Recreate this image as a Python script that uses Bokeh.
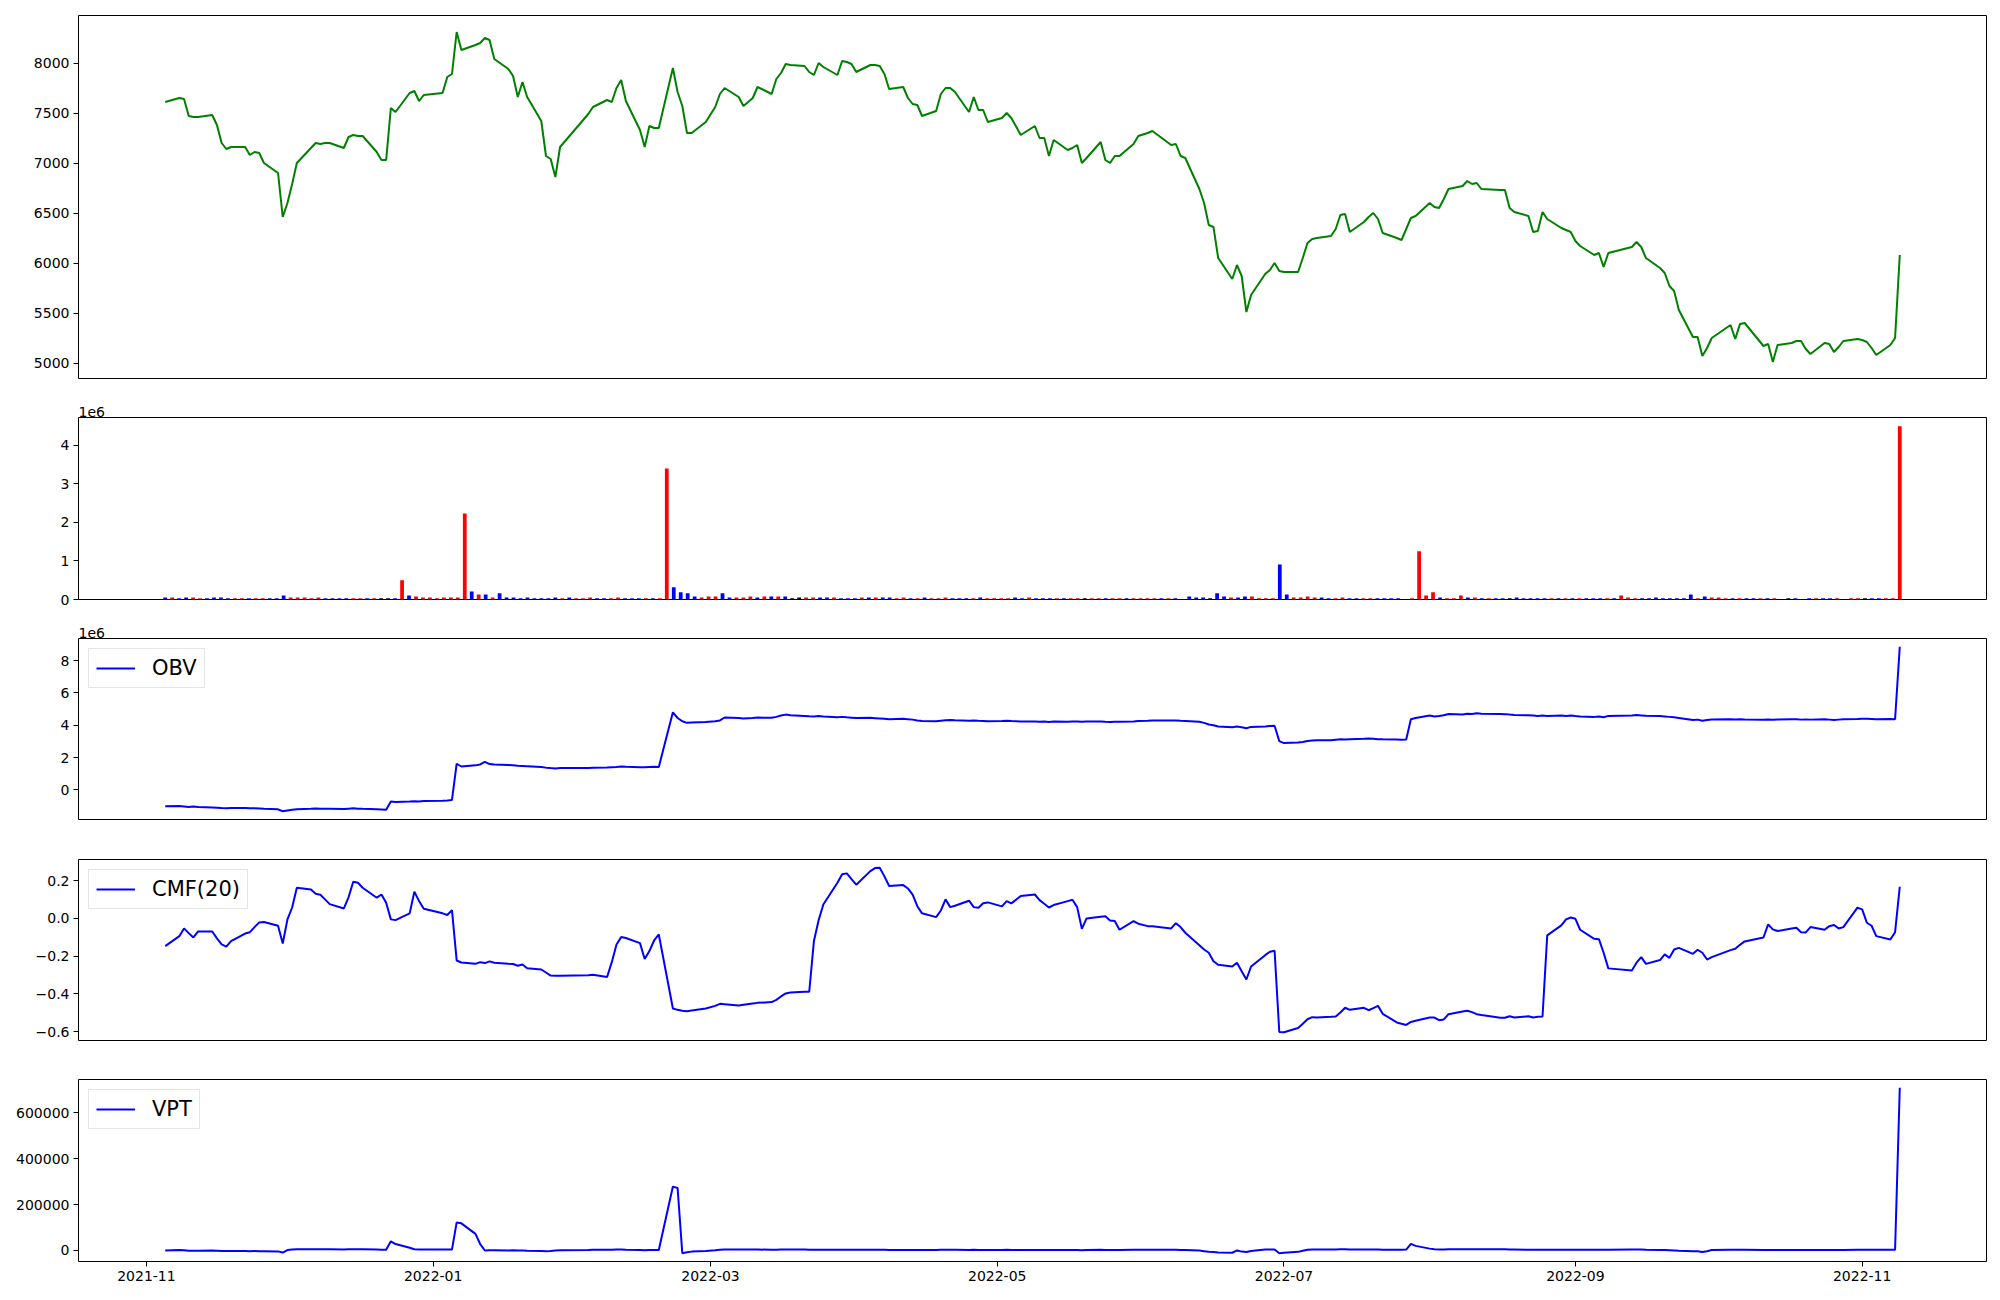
import pandas as pd
from bokeh.plotting import figure
from bokeh.layouts import column
from bokeh.models import (Range1d, FixedTicker, DatetimeTickFormatter,
                          CustomJSTickFormatter, BasicTickFormatter)
from bokeh.embed import file_html
from bokeh.resources import INLINE

# ---------------- DATA ----------------
holidays = ["2021-12-31", "2022-01-31", "2022-02-01", "2022-02-02", "2022-03-01", "2022-03-09",
            "2022-05-05", "2022-06-01", "2022-06-06", "2022-08-15", "2022-09-09", "2022-09-12",
            "2022-10-03", "2022-10-10"]
dates = [d for d in pd.bdate_range("2021-11-05", "2022-11-09") if d.strftime("%Y-%m-%d") not in holidays]

close = [
    7610, 7650, 7640, 7470, 7460, 7460, 7480, 7380, 7200, 7140, 7160, 7160, 7080, 7110, 7100, 7000, 6900, 6460,
    6600, 6790, 7000, 7150, 7200, 7190, 7200, 7200, 7150, 7260, 7280, 7270, 7270, 7110, 7030, 7030, 7550, 7510, 7700, 7720, 7620, 7680,
    7700, 7860, 7890, 8310, 8130, 8180, 8200, 8250, 8230, 8040, 7940, 7870, 7660, 7810, 7660, 7420, 7070, 7040, 6860, 7160,
    7490, 7560, 7630, 7610, 7750, 7830, 7620, 7330, 7160, 7370, 7350, 7350, 7950, 7710, 7570, 7300, 7300, 7410,
    7560, 7690, 7750, 7660, 7570, 7650, 7760, 7690, 7840, 7900, 7990, 7980, 7970, 7910, 7880, 8000, 7960, 7880, 8020, 8010, 7990,
    7910, 7980, 7980, 7970, 7890, 7740, 7760, 7650, 7590, 7580, 7470, 7520, 7690, 7750, 7750, 7710, 7510, 7660, 7530, 7530, 7410,
    7450, 7500, 7450, 7280, 7370, 7250, 7250, 7070, 7230, 7130, 7150, 7180, 7000, 7050, 7210, 7030, 7000, 7070, 7070, 7190, 7270,
    7300, 7320, 7180, 7190, 7070, 7050, 6740, 6600, 6380, 6360, 6050, 5840, 5980, 5870, 5510, 5680, 5890, 5930, 6000, 5920,
    5910, 5910, 6050, 6200, 6240, 6250, 6270, 6340, 6480, 6490, 6310, 6410, 6460, 6500, 6440, 6300, 6250, 6230, 6340, 6450, 6470,
    6600, 6560, 6550, 6640, 6740, 6770, 6820, 6790, 6800, 6740, 6730, 6730, 6550, 6510, 6470, 6310, 6320, 6510, 6440, 6350, 6330, 6310,
    6220, 6170, 6080, 6100, 5960, 6100, 6160, 6210, 6160, 6050, 5950, 5900, 5770, 5720, 5530, 5260, 5260, 5070, 5150, 5250,
    5380, 5240, 5390, 5400, 5170, 5190, 5010, 5180, 5200, 5220, 5220, 5140, 5090, 5200, 5190, 5110, 5160, 5220, 5240,
    5230, 5210, 5150, 5080, 5180, 5250, 6080,
]

# volume in thousands of shares
volume_k = [
    55, 55, 30, 55, 55, 30, 30, 55, 55, 30, 30, 30, 30, 30, 30, 30, 30, 105,
    55, 55, 55, 30, 55, 30, 30, 30, 30, 30, 30, 30, 30, 30, 30, 30, 500, 105, 80, 55, 55, 30,
    55, 55, 55, 2230, 210, 130, 130, 55, 160, 55, 55, 30, 55, 30, 30, 30, 55, 30, 55, 30,
    30, 55, 30, 30, 30, 55, 30, 30, 30, 30, 30, 30, 3400, 320, 185, 160, 80, 55,
    80, 80, 160, 55, 55, 55, 80, 55, 80, 80, 80, 80, 30, 55, 55, 55, 55, 55, 55, 30, 30,
    30, 55, 55, 55, 55, 55, 30, 55, 30, 30, 55, 30, 30, 55, 30, 30, 30, 30, 55, 30, 30,
    30, 30, 55, 30, 55, 30, 30, 30, 30, 30, 30, 30, 30, 30, 30, 30, 30, 30, 30, 30, 30,
    30, 30, 30, 30, 30, 10, 80, 55, 55, 30, 160, 80, 55, 55, 80, 80, 30, 30, 30, 910,
    130, 55, 55, 80, 55, 55, 30, 30, 55, 30, 30, 30, 30, 30, 30, 30, 30, 10, 30, 1250, 105,
    185, 55, 30, 30, 105, 55, 55, 30, 30, 30, 30, 30, 55, 30, 30, 30, 30, 30, 30, 30, 30, 30,
    30, 30, 30, 30, 30, 105, 55, 30, 30, 30, 55, 30, 30, 30, 30, 130, 30, 80, 55, 55,
    30, 30, 30, 30, 30, 30, 30, 30, 10, 30, 30, 10, 30, 30, 30, 30, 30, 10, 30,
    30, 30, 30, 30, 30, 30, 4500,
]

# day direction of each volume bar: 1 up, -1 down, 0 unchanged
direction = [
    -1, 1, -1, -1, 1, 1, -1, -1, -1, -1, 1, 1, -1, 1, 1, -1, -1, -1,
    1, 1, 1, 1, 1, -1, -1, -1, -1, 1, 1, -1, 1, 0, 0, -1, 1, -1, 1, 1, 1, 1,
    1, 1, 1, 1, -1, 1, -1, 1, -1, -1, -1, -1, -1, -1, -1, -1, -1, 1, -1, 1,
    1, 1, -1, -1, 1, 1, -1, -1, -1, 1, -1, 1, 1, -1, -1, -1, -1, 1,
    1, 1, -1, -1, 1, 1, 1, -1, 1, -1, 1, -1, 0, 0, 1, 1, -1, -1, 1, -1, -1,
    -1, 1, -1, 1, -1, -1, 1, 1, -1, 1, -1, 1, 1, 1, -1, -1, -1, 1, -1, 1, 1,
    1, 1, -1, -1, 1, -1, -1, -1, 1, -1, 1, 1, 0, 1, 1, -1, 1, 1, -1, 1, 1,
    1, 1, -1, 1, -1, 0, -1, -1, -1, 0, -1, -1, 1, -1, -1, 1, 1, 1, 1, -1,
    -1, 1, 1, 1, 1, -1, -1, 1, 1, -1, -1, 1, 1, -1, -1, -1, -1, 0, 1, 1, 1,
    1, -1, 1, 1, 1, -1, 1, -1, 1, -1, -1, 0, -1, -1, -1, -1, -1, 1, -1, 1, -1, 1,
    -1, -1, -1, 1, -1, 1, 1, 1, -1, -1, -1, -1, -1, -1, -1, -1, 1, -1, 1, 1,
    1, -1, 1, -1, -1, 1, -1, 1, 0, 0, -1, 0, -1, 1, -1, -1, 1, 0, 1,
    1, 0, -1, -1, 1, 1, 1,
]

# OBV in millions
obv_m = [
    -1.01, -0.99, -1.02, -1.05, -1.03, -1.05, -1.08, -1.10, -1.12, -1.13, -1.12, -1.12, -1.14, -1.13, -1.15, -1.17, -1.20, -1.32,
    -1.27, -1.22, -1.19, -1.17, -1.15, -1.17, -1.16, -1.16, -1.18, -1.16, -1.14, -1.16, -1.17, -1.19, -1.21, -1.23, -0.72, -0.75, -0.72, -0.70, -0.71, -0.69,
    -0.67, -0.65, -0.62, 1.62, 1.45, 1.52, 1.58, 1.74, 1.60, 1.57, 1.54, 1.52, 1.49, 1.48, 1.47, 1.42, 1.38, 1.35, 1.33, 1.35,
    1.36, 1.37, 1.39, 1.41, 1.42, 1.45, 1.43, 1.41, 1.40, 1.42, 1.43, 1.42, 4.80, 4.45, 4.25, 4.15, 4.17, 4.20,
    4.25, 4.30, 4.48, 4.45, 4.42, 4.45, 4.48, 4.46, 4.52, 4.60, 4.66, 4.62, 4.58, 4.56, 4.55, 4.57, 4.55, 4.50, 4.52, 4.49, 4.47,
    4.45, 4.46, 4.44, 4.42, 4.40, 4.38, 4.40, 4.38, 4.35, 4.30, 4.27, 4.25, 4.28, 4.31, 4.33, 4.31, 4.28, 4.30, 4.28, 4.27, 4.25,
    4.27, 4.28, 4.26, 4.24, 4.23, 4.22, 4.23, 4.21, 4.23, 4.22, 4.23, 4.24, 4.22, 4.23, 4.24, 4.22, 4.21, 4.22, 4.22, 4.24, 4.26,
    4.28, 4.30, 4.29, 4.30, 4.28, 4.27, 4.22, 4.15, 4.05, 4.00, 3.93, 3.88, 3.92, 3.88, 3.82, 3.90, 3.93, 3.95, 3.97, 3.02,
    2.90, 2.93, 2.97, 3.03, 3.06, 3.08, 3.07, 3.10, 3.13, 3.12, 3.14, 3.16, 3.18, 3.16, 3.14, 3.13, 3.12, 3.10, 3.12, 4.37, 4.45,
    4.60, 4.55, 4.58, 4.62, 4.70, 4.67, 4.72, 4.70, 4.74, 4.72, 4.70, 4.69, 4.66, 4.64, 4.62, 4.60, 4.58, 4.60, 4.58, 4.60, 4.58, 4.60,
    4.57, 4.55, 4.52, 4.54, 4.50, 4.58, 4.61, 4.63, 4.61, 4.59, 4.57, 4.55, 4.52, 4.49, 4.45, 4.32, 4.35, 4.28, 4.32, 4.36,
    4.38, 4.36, 4.38, 4.36, 4.34, 4.36, 4.34, 4.36, 4.37, 4.37, 4.35, 4.36, 4.35, 4.37, 4.35, 4.33, 4.35, 4.37, 4.39,
    4.41, 4.41, 4.39, 4.37, 4.39, 4.37, 8.86,
]

cmf20 = [
    -0.147, -0.094, -0.053, -0.078, -0.101, -0.069, -0.069, -0.106, -0.138, -0.150, -0.120, -0.080, -0.073, -0.046, -0.021, -0.019, -0.039, -0.133,
    -0.005, 0.058, 0.163, 0.154, 0.131, 0.126, 0.101, 0.076, 0.053, 0.112, 0.195, 0.189, 0.163, 0.110, 0.127, 0.083, -0.005, -0.009, 0.027, 0.142, 0.092, 0.051,
    0.027, 0.018, 0.044, -0.223, -0.234, -0.241, -0.232, -0.237, -0.228, -0.235, -0.241, -0.242, -0.251, -0.244, -0.264, -0.271, -0.287, -0.303, -0.304, -0.304,
    -0.301, -0.299, -0.311, -0.232, -0.138, -0.099, -0.104, -0.131, -0.215, -0.173, -0.117, -0.085, -0.478, -0.485, -0.490, -0.492, -0.488, -0.478,
    -0.464, -0.453, -0.455, -0.462, -0.458, -0.451, -0.448, -0.444, -0.432, -0.414, -0.398, -0.393, -0.389, -0.389, -0.120, -0.010, 0.074, 0.189, 0.234, 0.239, 0.209,
    0.179, 0.251, 0.267, 0.269, 0.223, 0.172, 0.177, 0.159, 0.126, 0.065, 0.027, 0.007, 0.042, 0.101, 0.060, 0.067, 0.094, 0.060, 0.057, 0.081, 0.085,
    0.064, 0.092, 0.080, 0.119, 0.127, 0.097, 0.078, 0.058, 0.071, 0.092, 0.099, 0.060, -0.055, 0.000, 0.009, 0.011, -0.011, -0.014, -0.060, -0.014, -0.028,
    -0.041, -0.042, -0.053, -0.025, -0.046, -0.076, -0.142, -0.165, -0.182, -0.227, -0.246, -0.255, -0.235, -0.280, -0.324, -0.255, -0.195, -0.177, -0.172, -0.602,
    -0.604, -0.581, -0.559, -0.535, -0.524, -0.526, -0.522, -0.520, -0.499, -0.474, -0.485, -0.474, -0.487, -0.476, -0.464, -0.506, -0.552, -0.559, -0.565, -0.549, -0.543,
    -0.526, -0.526, -0.540, -0.536, -0.508, -0.494, -0.490, -0.497, -0.508, -0.512, -0.527, -0.527, -0.519, -0.526, -0.519, -0.526, -0.522, -0.520, -0.090, -0.037, -0.005, 0.005,
    -0.002, -0.060, -0.108, -0.110, -0.182, -0.265, -0.276, -0.235, -0.205, -0.241, -0.221, -0.191, -0.209, -0.165, -0.156, -0.188, -0.166, -0.182, -0.218, -0.205,
    -0.168, -0.161, -0.140, -0.122, -0.101, -0.032, -0.058, -0.067, -0.053, -0.050, -0.073, -0.074, -0.046, -0.060, -0.041, -0.035, -0.053, -0.046, 0.057,
    0.048, -0.023, -0.039, -0.094, -0.112, -0.073, 0.168,
]

# VPT in thousands
vpt_k = [
    0, 2, 1, -1, -1, -1, 0, -1, -2, -2, -2, -2, -3, -2, -3, -3, -4, -9,
    2, 4, 5, 5, 5, 5, 5, 5, 4, 5, 5, 5, 5, 4, 3, 3, 40, 28, 12, 5, 4, 4,
    4, 4, 4, 122, 118, 72, 28, 0, 1, 1, 0, 1, 0, 0, -1, -2, -3, -2, 0, 1,
    2, 3, 3, 3, 4, 4, 3, 2, 1, 2, 2, 2, 278, 272, -12, -8, -5, -2,
    1, 3, 4, 4, 4, 4, 4, 3, 3, 4, 4, 4, 4, 3, 3, 3, 3, 3, 3, 3, 3,
    3, 3, 3, 3, 3, 2, 2, 2, 2, 2, 2, 2, 3, 3, 3, 3, 2, 3, 2, 2, 2,
    2, 3, 2, 2, 2, 2, 2, 2, 2, 2, 2, 2, 1, 2, 3, 2, 2, 2, 2, 3, 3,
    3, 3, 3, 3, 2, 2, 0, -3, -6, -7, -9, -10, 0, -5, -7, -2, 4, 4, 4, -12,
    -10, -6, -1, 3, 4, 4, 4, 4, 5, 5, 4, 4, 4, 4, 4, 3, 3, 3, 4, 29, 20,
    8, 5, 4, 4, 5, 5, 5, 5, 5, 5, 5, 5, 4, 4, 3, 3, 3, 3, 3, 3, 3, 3,
    3, 3, 3, 3, 3, 3, 4, 4, 4, 3, 2, 2, 1, 0, -1, -3, -3, -7, -3, 2,
    3, 3, 3, 3, 2, 2, 2, 2, 2, 2, 2, 2, 2, 2, 2, 2, 2, 2, 3,
    3, 3, 3, 3, 3, 3, 708,
]

x_tick_dates = ["2021-11-01", "2022-01-01", "2022-03-01", "2022-05-01", "2022-07-01", "2022-09-01", "2022-11-01"]
price_ticks = [5000, 5500, 6000, 6500, 7000, 7500, 8000]
volume_ticks = [0, 1, 2, 3, 4]
obv_ticks = [0, 2, 4, 6, 8]
cmf_ticks = [-0.6, -0.4, -0.2, 0.0, 0.2]
vpt_ticks = [0, 200000, 400000, 600000]

# ---------------- BUILD ----------------
n = min(len(dates), len(close), len(volume_k), len(direction), len(obv_m), len(cmf20), len(vpt_k))
dates = dates[:n]
close = close[:n]
vol_m = [v / 1000.0 for v in volume_k[:n]]
direction = direction[:n]
obv_m = obv_m[:n]
cmf20 = cmf20[:n]
vpt = [v * 1000.0 for v in vpt_k[:n]]
bar_colors = ["red" if d > 0 else ("blue" if d < 0 else "black") for d in direction]

FONT = "DejaVu Sans"
W = 1992
DAY = 86400000.0

t = [d.value / 1e6 for d in dates]
span = t[-1] - t[0]
xr = Range1d(start=t[0] - 0.05 * span, end=t[-1] + 0.05 * span)
# volume bars are placed one per session, evenly spaced across the same span
tb = [t[0] + i * span / (n - 1) for i in range(n)]


def margin_range(vals, lo_zero=False):
    lo, hi = min(vals), max(vals)
    r = hi - lo
    if lo_zero:
        return Range1d(start=0, end=hi * 1.05)
    return Range1d(start=lo - 0.05 * r, end=hi + 0.05 * r)


def style_axis(ax):
    ax.major_label_text_font = FONT
    ax.major_label_text_font_size = "14px"
    ax.major_label_text_color = "black"
    ax.axis_line_color = None
    ax.major_tick_out = 5
    ax.major_tick_in = 0
    ax.minor_tick_out = 0
    ax.minor_tick_in = 0
    ax.major_tick_line_color = "black"
    ax.major_label_standoff = 4


def make_fig(height, top, bottom, yr, title=None):
    kw = dict(width=W, height=height, x_axis_type="datetime", x_range=xr, y_range=yr,
              output_backend="svg", toolbar_location=None, min_border_left=78,
              min_border_right=6, min_border_top=top, min_border_bottom=bottom,
              background_fill_color="white", border_fill_color="white")
    if title is not None:
        kw["title"] = title
    p = figure(**kw)
    if title is not None:
        p.title.text_font = FONT
        p.title.text_font_size = "14px"
        p.title.text_font_style = "normal"
        p.title.text_color = "black"
        p.title.align = "left"
        p.title.offset = 0
        p.title.standoff = 2
    p.grid.visible = False
    p.outline_line_color = "black"
    p.outline_line_width = 1
    p.outline_line_alpha = 1
    for ax in p.yaxis:
        style_axis(ax)
    for ax in p.xaxis:
        style_axis(ax)
    return p


def style_legend(p):
    lg = p.legend[0]
    lg.location = "top_left"
    lg.margin = 10
    lg.padding = 7
    lg.spacing = 0
    lg.label_text_font = FONT
    lg.label_text_font_size = "21px"
    lg.label_text_color = "black"
    lg.label_standoff = 17
    lg.label_height = 20
    lg.glyph_width = 39
    lg.glyph_height = 20
    lg.border_line_color = "#cccccc"
    lg.border_line_width = 1
    lg.background_fill_color = "white"
    lg.background_fill_alpha = 0.8


# Panel 1: price
p1 = make_fig(397, 15, 19, margin_range(close))
p1.line(t, close, line_color="green", line_width=2)
p1.yaxis.ticker = FixedTicker(ticks=price_ticks)
p1.xaxis.visible = False

# Panel 2: volume
p2 = make_fig(221, 20, 19, margin_range(vol_m, lo_zero=True), title="1e6")
p2.vbar(x=tb, width=0.8 * DAY, top=vol_m, bottom=0, fill_color=bar_colors, line_color=None)
p2.yaxis.ticker = FixedTicker(ticks=volume_ticks)
p2.xaxis.visible = False

# Panel 3: OBV
p3 = make_fig(221, 20, 20, margin_range(obv_m), title="1e6")
p3.line(t, obv_m, line_color="blue", line_width=2, legend_label="OBV")
p3.yaxis.ticker = FixedTicker(ticks=obv_ticks)
p3.xaxis.visible = False
style_legend(p3)

# Panel 4: CMF
p4 = make_fig(220, 20, 19, margin_range(cmf20))
p4.line(t, cmf20, line_color="blue", line_width=2, legend_label="CMF(20)")
p4.yaxis.ticker = FixedTicker(ticks=cmf_ticks)
p4.yaxis.formatter = CustomJSTickFormatter(
    code="return (tick < -1e-9 ? '\u2212' : '') + Math.abs(tick).toFixed(1);")
p4.xaxis.visible = False
style_legend(p4)

# Panel 5: VPT
p5 = make_fig(230, 20, 28, margin_range(vpt))
p5.line(t, vpt, line_color="blue", line_width=2, legend_label="VPT")
p5.yaxis.ticker = FixedTicker(ticks=vpt_ticks)
p5.yaxis.formatter = BasicTickFormatter(use_scientific=False)
p5.xaxis.ticker = FixedTicker(ticks=[pd.Timestamp(s).value / 1e6 for s in x_tick_dates])
p5.xaxis.formatter = DatetimeTickFormatter(days="%Y-%m", months="%Y-%m", years="%Y-%m",
                                           hours="%Y-%m", minutes="%Y-%m")
style_legend(p5)

layout = column(p1, p2, p3, p4, p5, spacing=0)
open("out.html", "w").write(file_html(layout, INLINE))
